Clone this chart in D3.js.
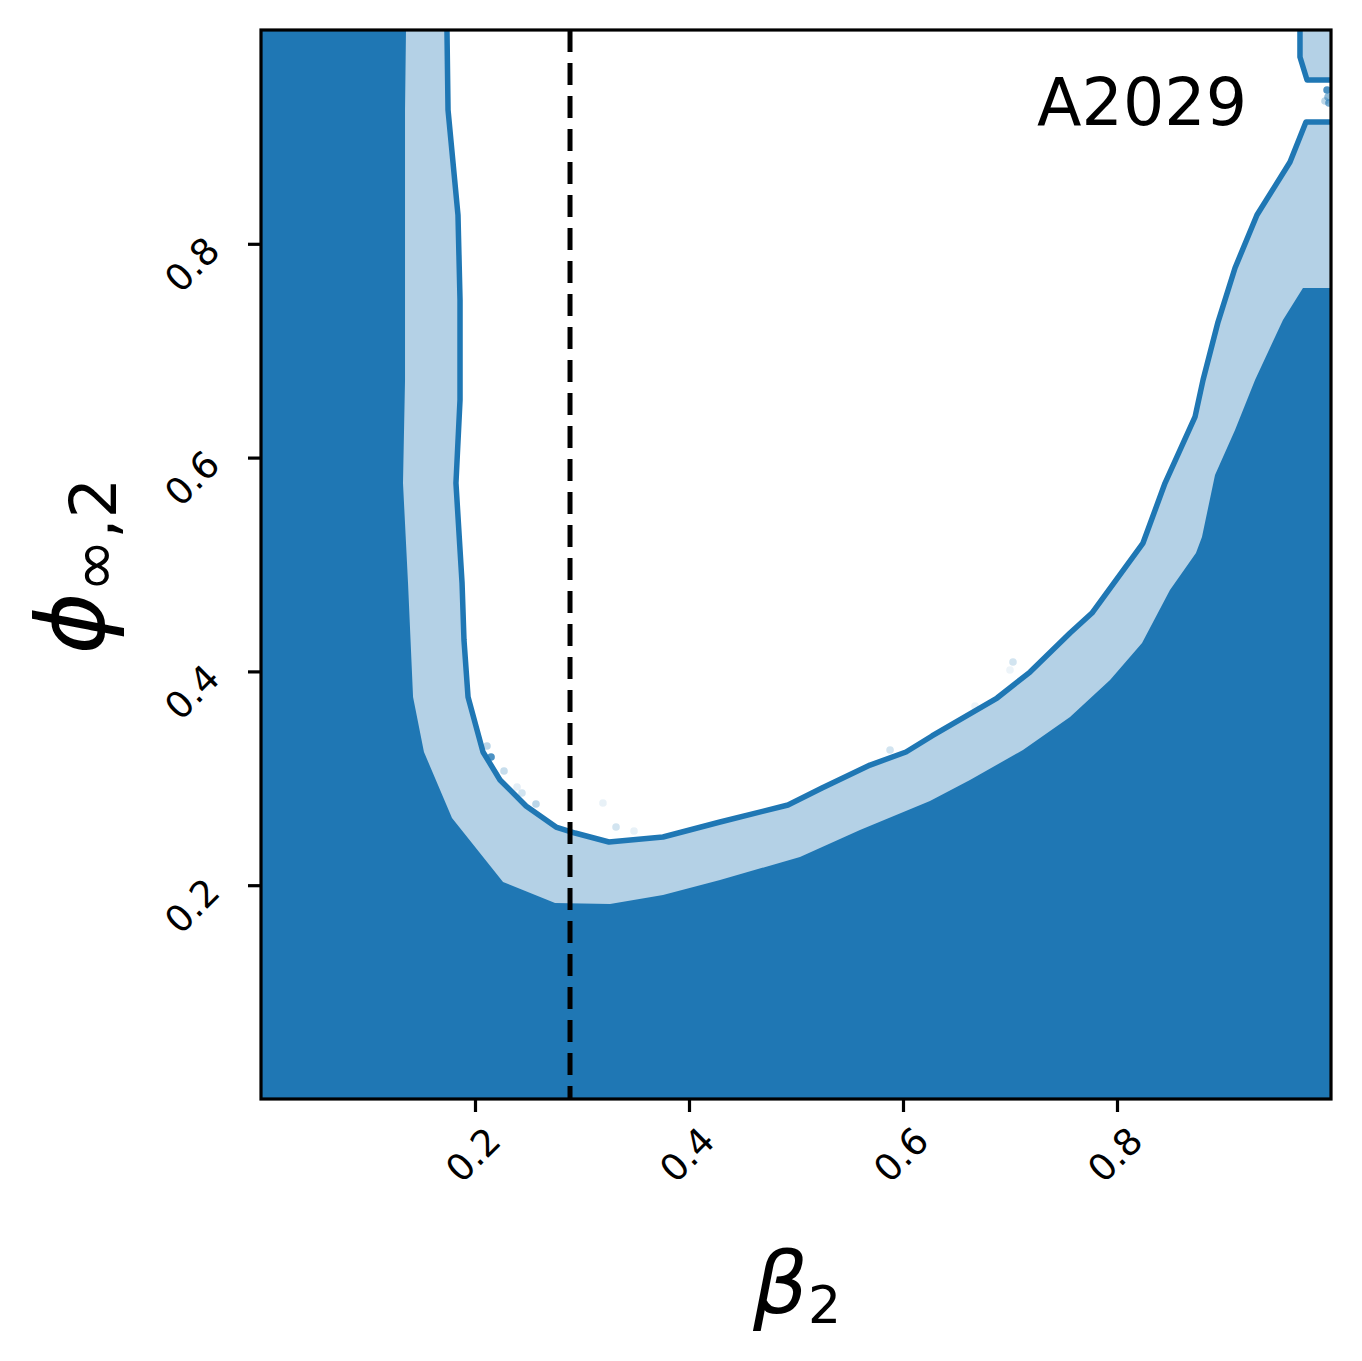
<!DOCTYPE html>
<html>
<head>
<meta charset="utf-8">
<script src="https://cdn.jsdelivr.net/npm/d3@7"></script>
<style>
  html, body { margin: 0; padding: 0; background: #fff; }
  svg { display: block; }
  text { font-family: "DejaVu Sans", sans-serif; }
</style>
</head>
<body>
<svg id="chart" width="1362" height="1361"></svg>
<script>
// ---------------- data ----------------
const xTicks = [0.2, 0.4, 0.6, 0.8];
const yTicks = [0.2, 0.4, 0.6, 0.8];
const tickLabels = ["0.2", "0.4", "0.6", "0.8"];
const clusterName = "A2029";
const trueBeta = 0.2888;

// boundary of the outer (dark) level: [beta2, phi]
const outerContour = [
  [0.1355,1.0],[0.1346,0.9251],[0.1346,0.8410],[0.1346,0.6726],[0.1327,0.5762],
  [0.1374,0.4827],[0.1421,0.3761],[0.1523,0.3246],[0.1785,0.2629],[0.2262,0.2030],
  [0.2748,0.1834],[0.3262,0.1824],[0.3757,0.1908],[0.4290,0.2049],[0.5037,0.2264],
  [0.5598,0.2516],[0.6252,0.2788],[0.6626,0.2984],[0.7121,0.3265],[0.7561,0.3573],
  [0.7935,0.3920],[0.8234,0.4266],[0.8495,0.4761],[0.8738,0.5108],[0.8794,0.5257],
  [0.8916,0.5837],[0.9103,0.6258],[0.9290,0.6726],[0.9551,0.7287],[0.9738,0.7587],
  [1.0,0.7587]
];
// boundary of the inner (light) level
const innerContour = [
  [0.1738,1.0],[0.1748,0.9251],[0.1841,0.8269],[0.1860,0.7474],[0.1860,0.6539],
  [0.1822,0.5762],[0.1879,0.4827],[0.1897,0.4294],[0.1935,0.3761],[0.2075,0.3246],
  [0.2234,0.2984],[0.2477,0.2741],[0.2757,0.2544],[0.2935,0.2488],[0.3252,0.2404],
  [0.3757,0.2451],[0.4290,0.2591],[0.4925,0.2750],[0.5243,0.2909],[0.5692,0.3124],
  [0.6028,0.3246],[0.6271,0.3396],[0.6879,0.3751],[0.7187,0.3994],[0.7561,0.4359],
  [0.7766,0.4546],[0.8243,0.5201],[0.8449,0.5762],[0.8729,0.6380],[0.8804,0.6726],
  [0.8944,0.7268],[0.9103,0.7774],[0.9308,0.8269],[0.9617,0.8765],[0.9766,0.9139],
  [1.0,0.9139]
];
// small inner-level patch in the top right corner
const cornerContour = [
  [0.9710,1.0],[0.9710,0.9747],[0.9776,0.9532],[1.0,0.9532]
];
// scattered samples outside the contours: [beta2, phi, alpha]
const samples = [
  [0.2112,0.3302,0.30],[0.2150,0.3199,0.80],[0.2271,0.3068,0.25],[0.2393,0.2919,0.12],
  [0.2439,0.2862,0.20],[0.2570,0.2760,0.30],[0.3196,0.2769,0.10],[0.3318,0.2544,0.20],
  [0.3486,0.2507,0.10],[0.5879,0.3265,0.20],[0.7028,0.4088,0.20],[0.7000,0.4013,0.08],
  [0.6673,0.3676,0.08],[0.9963,0.9439,0.80],[0.9972,0.9373,0.50],[0.9981,0.9317,0.60],
  [0.9944,0.9336,0.30]
];

// ---------------- layout ----------------
const M = { left: 261, top: 30, width: 1070, height: 1069 };
const DARK = "#1f77b4", LIGHT = "#b4d1e6";

const svg = d3.select("#chart");
const x = d3.scaleLinear().domain([0, 1]).range([0, M.width]);
const y = d3.scaleLinear().domain([0, 1]).range([M.height, 0]);

svg.append("defs").append("clipPath").attr("id", "plotclip")
  .append("rect").attr("width", M.width).attr("height", M.height);

const g = svg.append("g").attr("transform", `translate(${M.left},${M.top})`);
const plot = g.append("g").attr("clip-path", "url(#plotclip)");

const line = d3.line().x(d => x(d[0])).y(d => y(d[1]));

// dark base
plot.append("rect").attr("width", M.width).attr("height", M.height).attr("fill", DARK);
// light region (beyond outer contour, toward top-right)
plot.append("path")
  .attr("d", line(outerContour.concat([[1.0, 1.0]])) + "Z")
  .attr("fill", LIGHT);
// white region (inside inner contour)
const whitePoly = innerContour.concat(cornerContour.slice().reverse());
plot.append("path")
  .attr("d", line(whitePoly) + "Z")
  .attr("fill", "#ffffff");

// samples
plot.selectAll("circle.s").data(samples).enter().append("circle")
  .attr("cx", d => x(d[0])).attr("cy", d => y(d[1])).attr("r", 3.8)
  .attr("fill", DARK).attr("fill-opacity", d => d[2]);

// contour lines
[innerContour, cornerContour].forEach(c => {
  plot.append("path").attr("d", line(c))
    .attr("fill", "none").attr("stroke", DARK).attr("stroke-width", 5.5)
    .attr("stroke-linejoin", "round").attr("stroke-linecap", "butt");
});

// truth dashed line
plot.append("line")
  .attr("x1", x(trueBeta)).attr("x2", x(trueBeta))
  .attr("y1", 0).attr("y2", M.height)
  .attr("stroke", "#000").attr("stroke-width", 5)
  .attr("stroke-dasharray", "22,11");

// frame
g.append("rect").attr("width", M.width).attr("height", M.height)
  .attr("fill", "none").attr("stroke", "#000").attr("stroke-width", 3.2);

// axes ticks (lines via d3 axis)
const xAxis = g.append("g").attr("transform", `translate(0,${M.height})`)
  .call(d3.axisBottom(x).tickValues(xTicks).tickSize(13).tickFormat(""));
const yAxis = g.append("g")
  .call(d3.axisLeft(y).tickValues(yTicks).tickSize(13).tickFormat(""));
[xAxis, yAxis].forEach(a => {
  a.select(".domain").remove();
  a.selectAll(".tick line").attr("stroke", "#000").attr("stroke-width", 3.2);
});

// tick labels rotated 45°
xTicks.forEach((v, i) => {
  const ax = x(v) + 28, ay = M.height + 44;
  g.append("text").attr("x", ax).attr("y", ay)
    .attr("text-anchor", "end").attr("font-size", 37)
    .attr("transform", `rotate(-45,${ax},${ay})`)
    .text(tickLabels[i]);
});
yTicks.forEach((v, i) => {
  const ax = -39, ay = y(v) + 9;
  g.append("text").attr("x", ax).attr("y", ay)
    .attr("text-anchor", "end").attr("font-size", 37)
    .attr("transform", `rotate(-45,${ax},${ay})`)
    .text(tickLabels[i]);
});

// cluster name
g.append("text").attr("x", 986).attr("y", 95)
  .attr("text-anchor", "end").attr("font-size", 65)
  .text(clusterName);

// axis labels
const xl = svg.append("text").attr("x", 797).attr("y", 1313)
  .attr("text-anchor", "middle").attr("font-size", 86);
xl.append("tspan").attr("font-style", "italic").text("β");
xl.append("tspan").attr("font-size", 52).attr("dy", 10).text("2");

const yl = svg.append("text")
  .attr("transform", "translate(104,566) rotate(-90)")
  .attr("text-anchor", "middle").attr("font-size", 94);
yl.append("tspan").attr("font-style", "italic").text("ϕ");
yl.append("tspan").attr("font-size", 64).attr("dy", 12).text("∞,2");
</script>
</body>
</html>
